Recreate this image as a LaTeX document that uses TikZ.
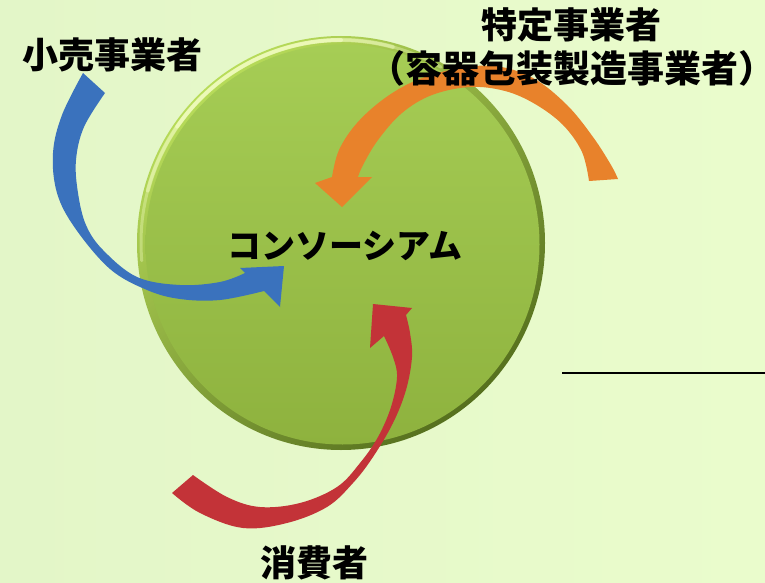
\documentclass[tikz,border=0pt]{standalone}
\usepackage{fontspec}
\newfontfamily\jp{Noto Sans CJK JP}
\newfontfamily\jphalt{Noto Sans CJK JP}[RawFeature=+halt]
\definecolor{bgA}{HTML}{E3F6C8}
\definecolor{bgB}{HTML}{EAFCCC}
\definecolor{rimlight}{HTML}{B8DC5A}
\definecolor{rimdark}{HTML}{56701E}
\definecolor{hilite}{HTML}{F6FFC8}
\definecolor{discTop}{HTML}{A6CD55}
\definecolor{discBot}{HTML}{8EB23E}
\definecolor{arrblue}{HTML}{3A72BD}
\definecolor{arrorange}{HTML}{E8822B}
\definecolor{arrred}{HTML}{C33338}
\tikzset{
  lbl/.style={font=\jp\bfseries\fontsize{36}{40}\selectfont, inner sep=0pt, text=black},
  lblp/.style={font=\jphalt\bfseries\fontsize{37}{40}\selectfont, inner sep=0pt, text=black},
  lblk/.style={font=\jp\bfseries\fontsize{34}{40}\selectfont, inner sep=0pt, text=black},
  bluearrow/.style={fill=arrblue},
  orangearrow/.style={fill=arrorange},
  redarrow/.style={fill=arrred},
  hl/.style={draw=hilite, line cap=round},
  rule/.style={draw=black, line width=1.6pt}
}
\begin{document}
\begin{tikzpicture}[x=1pt,y=-1pt]
\useasboundingbox (0,0) rectangle (765,583);
\shade[left color=bgA, right color=bgB] (0,0) rectangle (765,583);
% disc
\coordinate (c) at (341,243);
\coordinate (ci) at (342.5,244.5);
\shade[shading=axis, top color=rimlight, bottom color=rimdark, shading angle=40] (c) ellipse [x radius=204, y radius=207];
\shade[top color=discTop, bottom color=discBot] (ci) ellipse [x radius=197, y radius=200];
% bevel highlight (top-left)
\draw[hl, line width=3pt, opacity=0.35] ([shift={(175:200 and 203)}]c) arc[start angle=175, end angle=300, x radius=200, y radius=203];
\draw[hl, line width=4pt, opacity=0.45] ([shift={(195:200 and 203)}]c) arc[start angle=195, end angle=285, x radius=200, y radius=203];
\draw[hl, line width=4pt, opacity=0.6] ([shift={(215:200 and 203)}]c) arc[start angle=215, end angle=270, x radius=200, y radius=203];
% blue arrow
\fill[bluearrow] plot[smooth,tension=0.6] coordinates {(83,73) (62,115) (53,153) (57,193) (75,228) (110,269) (147,290) (180,299) (220,300) (264,291)}
  -- (280,307) -- (284,266) -- (240,268)
  -- plot[smooth,tension=0.6] coordinates {(245,273) (220,282) (180,285) (137,277) (103,250) (86,225) (78,193) (76,160) (84,127) (105,93)} -- cycle;
% orange arrow
\fill[orangearrow] plot[smooth,tension=0.6] coordinates {(332,177) (339,150) (357,123) (385,98) (417,80) (455,69) (495,66) (533,78) (567,105) (593,137) (611,165) (618,179)}
  -- (589,181)
  -- plot[smooth,tension=0.6] coordinates {(589,181) (582,152) (563,125) (535,104) (505,91) (470,87) (432,95) (402,113) (378,140) (363,165) (358,177)}
  -- (372,177) -- (342,207) -- (315,183) -- cycle;
% red arrow
\fill[redarrow] plot[smooth,tension=0.6] coordinates {(172,493) (200,513) (243,528) (287,523) (327,507) (353,483) (373,457) (393,423) (406,390) (412,357) (410,333) (406,315)}
  -- (412,308) -- (373,304) -- (370,348)
  -- plot[smooth,tension=0.6] coordinates {(384,336) (393,357) (397,377) (391,407) (378,437) (360,463) (337,487) (300,503) (260,507) (227,497) (193,475)} -- cycle;
% labels
\node[lbl] (retail) at (112,55) {小売事業者};
\node[lbl] (spec) at (571,25) {特定事業者};
\node[lblp] (specsub) at (572,68) {（容器包装製造事業者）};
\node[lblk] (cons) at (345,246) {コンソーシアム};
\node[lbl] (consumer) at (314,563) {消費者};
% rule
\coordinate (r1) at (562,373);
\coordinate (r2) at (765,373);
\draw[rule] (r1) -- (r2);
\end{tikzpicture}
\end{document}
